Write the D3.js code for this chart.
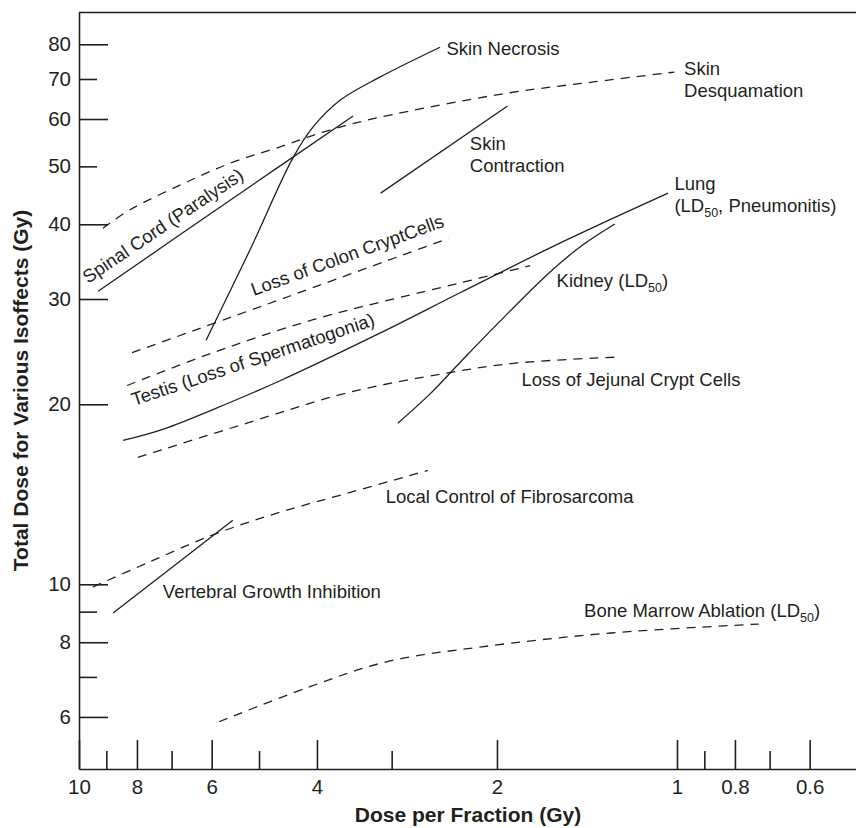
<!DOCTYPE html>
<html>
<head>
<meta charset="UTF-8">
<title>Isoeffect curves</title>
<style>
  body { margin: 0; background: #fff; }
  svg { display: block; font-family: "Liberation Sans", Arial, Helvetica, sans-serif; }
  .curve { fill: none; stroke: #231f20; stroke-width: 1.3; }
  .curve.early { stroke-dasharray: 9,7; }
  .lbl { font-size: 18.5px; fill: #231f20; }
  .axis text { font-size: 20.5px; fill: #231f20; }
  .axis line, .axis path, .frame { stroke: #231f20; stroke-width: 1.6; fill: none; }
  .title { font-size: 21px; font-weight: bold; fill: #231f20; }
</style>
</head>
<body>
<svg id="chart" width="856" height="828"></svg>
<script src="https://d3js.org/d3.v7.min.js"></script>
<script>

// [dose per fraction (Gy), total dose (Gy)]
// solid = late effects, dashed = early effects
var skinNecrosis     = [[6.13,25.6],[5.18,36.2],[4.39,51.6],[4.06,58.2],[3.66,64.5],[3.14,70.5],[2.49,79.1]];
var skinDesquamation = [[9.12,39.4],[8.22,42.3],[6.78,46.5],[5.59,50.6],[4.61,53.9],[3.81,57.5],[3.14,60.4],[1.92,66.3],[1.38,69.2],[1.01,71.9]];
var spinalCord       = [[9.29,30.9],[5.70,43.3],[3.48,60.7]];
var skinContraction  = [[3.13,45.1],[1.92,63.1]];
var lung             = [[8.44,17.4],[7.20,18.2],[5.97,19.6],[4.61,21.9],[3.14,26.3],[2.31,30.7],[1.57,37.2],[1.035,45.1]];
var kidney           = [[2.93,18.6],[2.59,20.8],[2.31,23.45],[1.98,27.5],[1.63,33.3],[1.44,36.9],[1.27,40.05]];
var colonCrypt       = [[8.15,24.4],[4.44,30.35],[2.41,37.9]];
var testis           = [[8.31,21.5],[5.97,24.4],[4.06,27.7],[2.31,31.9],[1.76,34.1]];
var jejunalCrypt     = [[7.97,16.3],[5.24,18.6],[3.56,20.9],[2.40,22.6],[1.85,23.45],[1.24,24.0]];
var fibrosarcoma     = [[9.48,9.90],[7.70,10.85],[5.97,12.1],[4.61,13.2],[3.56,14.2],[2.61,15.5]];
var vertebral        = [[8.77,8.95],[5.53,12.8]];
var boneMarrow       = [[5.83,5.89],[4.13,6.73],[3.06,7.42],[2.12,7.86],[1.29,8.29],[0.73,8.58]];

var lateCurves  = [skinNecrosis, spinalCord, skinContraction, lung, kidney, vertebral];
var earlyCurves = [skinDesquamation, colonCrypt, testis, jejunalCrypt, fibrosarcoma, boneMarrow];

// annotation text, anchored in data units (dose, total); "_50" marks a subscript
var labelText  = ["Skin Necrosis", "Skin", "Desquamation", "Skin", "Contraction", "Lung",
                  "(LD_50, Pneumonitis)", "Kidney (LD_50)", "Loss of Jejunal Crypt Cells",
                  "Local Control of Fibrosarcoma", "Vertebral Growth Inhibition",
                  "Bone Marrow Ablation (LD_50)", "Spinal Cord (Paralysis)",
                  "Loss of Colon CryptCells", "Testis (Loss of Spermatogonia)"];
var labelDose  = [2.43, 0.973, 0.973, 2.22, 2.22, 1.01, 1.01, 1.59, 1.82, 3.07, 7.24, 1.43, 9.66, 5.10, 8.09];
var labelTotal = [76.8, 71.1, 65.3, 53.2, 48.9, 45.6, 41.9, 31.4, 21.5, 13.7, 9.49, 8.82, 31.8, 30.35, 19.87];
var labelAngle = [0, 0, 0, 0, 0, 0, 0, 0, 0, 0, 0, 0, -34, -20, -18.5];

// axis ticks
var xTicks   = [10, 9, 8, 7, 6, 5, 4, 3, 2, 1, 0.9, 0.8, 0.7, 0.6];
var xLabeled = [10, 8, 6, 4, 2, 1, 0.8, 0.6];
var yTicks   = [80, 70, 60, 50, 40, 30, 20, 10, 9, 8, 7, 6];
var yLabeled = [80, 70, 60, 50, 40, 30, 20, 10, 8, 6];
var yShort   = [70, 50, 9, 7];

var xDomain = [10, 0.5];
var yDomain = [4.91, 90.6];

var svg = d3.select("#chart");

var x = d3.scaleLog().domain(xDomain).range([79, 857]);
var y = d3.scaleLog().domain(yDomain).range([769, 12]);

// frame top
svg.append("line")
  .attr("class", "frame")
  .attr("x1", x(xDomain[0])).attr("x2", x(xDomain[1]))
  .attr("y1", y(yDomain[1]) + 0.5).attr("y2", y(yDomain[1]) + 0.5);

// axes, ticks point inward
var gx = svg.append("g")
  .attr("class", "axis")
  .attr("transform", "translate(0," + y(yDomain[0]) + ")")
  .call(d3.axisBottom(x)
    .tickValues(xTicks)
    .tickSizeInner(-29)
    .tickSizeOuter(0)
    .tickPadding(10)
    .tickFormat(function(d){ return xLabeled.indexOf(d) >= 0 ? d : ""; }));
gx.selectAll(".tick line")
  .filter(function(d){ return xLabeled.indexOf(d) < 0; })
  .attr("y2", -18);

var gy = svg.append("g")
  .attr("class", "axis")
  .attr("transform", "translate(" + x(xDomain[0]) + ",0)")
  .call(d3.axisLeft(y)
    .tickValues(yTicks)
    .tickSizeInner(-29)
    .tickSizeOuter(0)
    .tickPadding(8)
    .tickFormat(function(d){ return yLabeled.indexOf(d) >= 0 ? d : ""; }));
gy.selectAll(".tick line")
  .filter(function(d){ return yShort.indexOf(d) >= 0; })
  .attr("x2", 18);

// axis titles
svg.append("text")
  .attr("class", "title")
  .attr("text-anchor", "middle")
  .attr("x", (x.range()[0] + x.range()[1]) / 2)
  .attr("y", 822)
  .text("Dose per Fraction (Gy)");

svg.append("text")
  .attr("class", "title")
  .attr("text-anchor", "middle")
  .attr("transform", "translate(28," + (y.range()[0] + y.range()[1]) / 2 + ") rotate(-90)")
  .text("Total Dose for Various Isoffects (Gy)");

// curves
var line = d3.line()
  .x(function(d){ return x(d[0]); })
  .y(function(d){ return y(d[1]); })
  .curve(d3.curveCatmullRom.alpha(0.5));

svg.selectAll(".late")
  .data(lateCurves)
  .enter().append("path")
  .attr("class", "curve late")
  .attr("d", line);

svg.selectAll(".early")
  .data(earlyCurves)
  .enter().append("path")
  .attr("class", "curve early")
  .attr("d", line);

// labels
labelText.forEach(function(t, i){
  var txt = svg.append("text")
    .attr("class", "lbl")
    .attr("transform", "translate(" + x(labelDose[i]) + "," + y(labelTotal[i]) + ") rotate(" + labelAngle[i] + ")");
  var parts = t.split(/_(\d+)/);
  parts.forEach(function(p, j){
    if (!p.length) return;
    if (j % 2 == 1) {
      txt.append("tspan").attr("font-size", "12.5px").attr("dy", 5).text(p);
    } else {
      var ts = txt.append("tspan").text(p);
      if (j > 0) ts.attr("dy", -5);
    }
  });
});

</script>
</body>
</html>
